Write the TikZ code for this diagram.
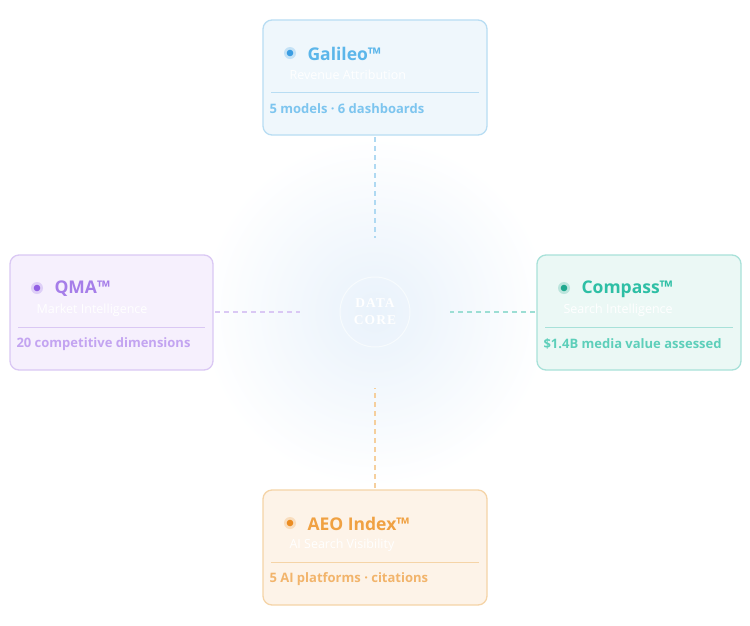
\documentclass[tikz,border=0pt]{standalone}
\usepackage{fontspec}
\setmainfont{Open Sans}
\newfontfamily\coreserif[LetterSpace=8]{Liberation Serif}
\usetikzlibrary{calc}
\begin{document}
\begin{tikzpicture}[x=1pt,y=-1pt,
  card/.style={rounded corners=9pt,line width=1.3pt},
  ttl/.style={anchor=west,font=\bfseries\fontsize{17.5}{20}\selectfont},
  sub/.style={anchor=west,text=white,font=\fontsize{12.5}{14}\selectfont},
  foot/.style={anchor=west,font=\bfseries\fontsize{13}{15}\selectfont},
  conn/.style={dash pattern=on 5pt off 4pt,line width=1.2pt}]
\useasboundingbox (0,0) rectangle (750,625);
\fill[white] (0,0) rectangle (750,625);
\definecolor{glow}{HTML}{E9F2FB}
\shade[inner color=glow,outer color=white] (375,312) circle (175);
\node[circle,minimum size=70pt,draw=white,draw opacity=0.6,line width=1pt,text=white,font=\coreserif\bfseries\fontsize{13.5}{17}\selectfont,align=center] (core) at (375,312) {DATA\\CORE};
\definecolor{gB}{HTML}{B8DDF3}\definecolor{gF}{HTML}{EFF7FC}\definecolor{gT}{HTML}{5CB6EA}\definecolor{gD}{HTML}{3B9DE2}\definecolor{gS}{HTML}{7DC5EF}
\definecolor{qB}{HTML}{DAC8F4}\definecolor{qF}{HTML}{F6F0FD}\definecolor{qT}{HTML}{A67EE9}\definecolor{qD}{HTML}{9260E4}\definecolor{qS}{HTML}{C3A4F1}
\definecolor{cB}{HTML}{A8E1D9}\definecolor{cF}{HTML}{EBF8F5}\definecolor{cT}{HTML}{2EBFA5}\definecolor{cD}{HTML}{1FA88E}\definecolor{cS}{HTML}{5DCFBA}
\definecolor{aB}{HTML}{F5D4A7}\definecolor{aF}{HTML}{FDF3E8}\definecolor{aT}{HTML}{F0A142}\definecolor{aD}{HTML}{EB8C22}\definecolor{aS}{HTML}{F2B46B}
% cards
\draw[card,draw=gB,fill=gF] (263,20) rectangle (487,135);
\fill[gD!30] (290,53) circle (6);\fill[gD] (290,53) circle (3.3);
\node[ttl,text=gT] (gal) at (304,54) {Galileo™};
\node[sub] at (286,75) {Revenue Attribution};
\draw[gB,line width=0.6pt] (271,92) -- (479,92);
\node[foot,text=gS] at (266,109) {5 models · 6 dashboards};
\draw[card,draw=qB,fill=qF] (10,255) rectangle (213,370);
\fill[qD!30] (37,288) circle (6);\fill[qD] (37,288) circle (3.3);
\node[ttl,text=qT] (qma) at (51,289) {QMA™};
\node[sub] at (33,310) {Market Intelligence};
\draw[qB,line width=0.6pt] (18,327) -- (205,327);
\node[foot,text=qS] at (13,344) {20 competitive dimensions};
\draw[card,draw=cB,fill=cF] (537,255) rectangle (741,370);
\fill[cD!30] (564,288) circle (6);\fill[cD] (564,288) circle (3.3);
\node[ttl,text=cT] (com) at (578,289) {Compass™};
\node[sub] at (560,310) {Search Intelligence};
\draw[cB,line width=0.6pt] (545,327) -- (733,327);
\node[foot,text=cS] at (540,344) {\$1.4B media value assessed};
\draw[card,draw=aB,fill=aF] (263,490) rectangle (487,605);
\fill[aD!30] (290,523) circle (6);\fill[aD] (290,523) circle (3.3);
\node[ttl,text=aT] (aeo) at (304,524) {AEO Index™};
\node[sub] at (286,545) {AI Search Visibility};
\draw[aB,line width=0.6pt] (271,562) -- (479,562);
\node[foot,text=aS] at (266,579) {5 AI platforms · citations};
% connectors
\coordinate (gt) at (375,137);\coordinate (ge) at (375,238);
\coordinate (ql) at (215,312);\coordinate (qe) at (300,312);
\coordinate (cl) at (535,312);\coordinate (ce) at (450,312);
\coordinate (at) at (375,488);\coordinate (ae) at (375,388);
\draw[conn,gB!90!gT] (gt) -- (ge);
\draw[conn,qB] (ql) -- (qe);
\draw[conn,cB!90!cT] (cl) -- (ce);
\draw[conn,aB!90!aT] (at) -- (ae);
\end{tikzpicture}
\end{document}
